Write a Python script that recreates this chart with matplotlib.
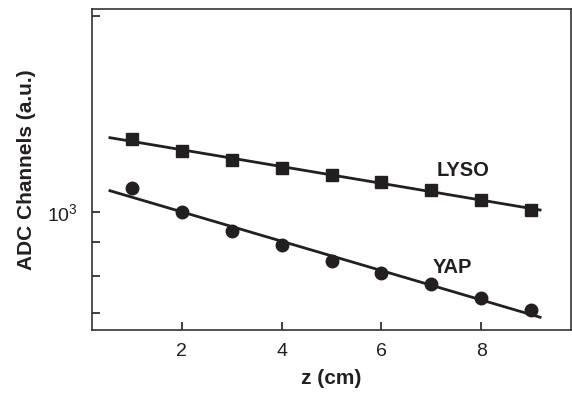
import numpy as np
import matplotlib
matplotlib.use("Agg")
from matplotlib import pyplot as plt
from matplotlib.ticker import FixedLocator, FixedFormatter, NullLocator

plt.rcParams['font.family'] = ['Liberation Sans', 'DejaVu Sans']
plt.rcParams['mathtext.default'] = 'regular'

# z position (cm)
z_cm = [1, 2, 3, 4, 5, 6, 7, 8, 9]
# ADC channel values
lyso_adc = [1297, 1240, 1203, 1168, 1142, 1113, 1083, 1046, 1008]
yap_adc = [1091, 1000, 935, 890, 842, 807, 777, 738, 708]

y_ticks = [700, 800, 900, 1000, 2000]
y_tick_labels = ["", "", "", "$10^3$", ""]
x_ticks = [2, 4, 6, 8]

ink = "#231f20"

fig = plt.figure(figsize=(5.72, 3.94), dpi=100)
ax = fig.add_axes([0.1608, 0.1624, 0.8375, 0.8148])

# exponential fits (straight lines on log axis)
fit_z = np.array([0.56, 9.18])
for vals in (lyso_adc, yap_adc):
    k, b = np.polyfit(z_cm, np.log10(vals), 1)
    ax.plot(fit_z, 10 ** (k * fit_z + b), color=ink, lw=2, zorder=2)

ax.plot(z_cm, lyso_adc, ls="none", marker="s", ms=8.5, color=ink, zorder=3)
ax.plot(z_cm, yap_adc, ls="none", marker="o", ms=9, color=ink, zorder=3)

ax.text(7.1, 1160, "LYSO", fontsize=14.5, fontweight="bold", color=ink, va="center")
ax.text(7.03, 823, "YAP", fontsize=14.5, fontweight="bold", color=ink, va="center")

ax.set_yscale("log")
ax.set_xlim(0.2, 9.8)
ax.set_ylim(660, 2050)

ax.yaxis.set_major_locator(FixedLocator(y_ticks))
ax.yaxis.set_major_formatter(FixedFormatter(y_tick_labels))
ax.yaxis.set_minor_locator(NullLocator())
ax.set_xticks(x_ticks)
ax.tick_params(direction="in", length=6, width=1.2, colors=ink,
               labelsize=14, top=False, right=False, pad=9)
ax.tick_params(axis="y", pad=10)

for sp in ax.spines.values():
    sp.set_color("#333333")
    sp.set_linewidth(1.2)

ax.set_xlabel("z (cm)", fontsize=15, fontweight="bold", color=ink, labelpad=7)
ax.set_ylabel("ADC Channels (a.u.)", fontsize=15, fontweight="bold", color=ink, labelpad=8)

fig.savefig("out.png", dpi=100)
